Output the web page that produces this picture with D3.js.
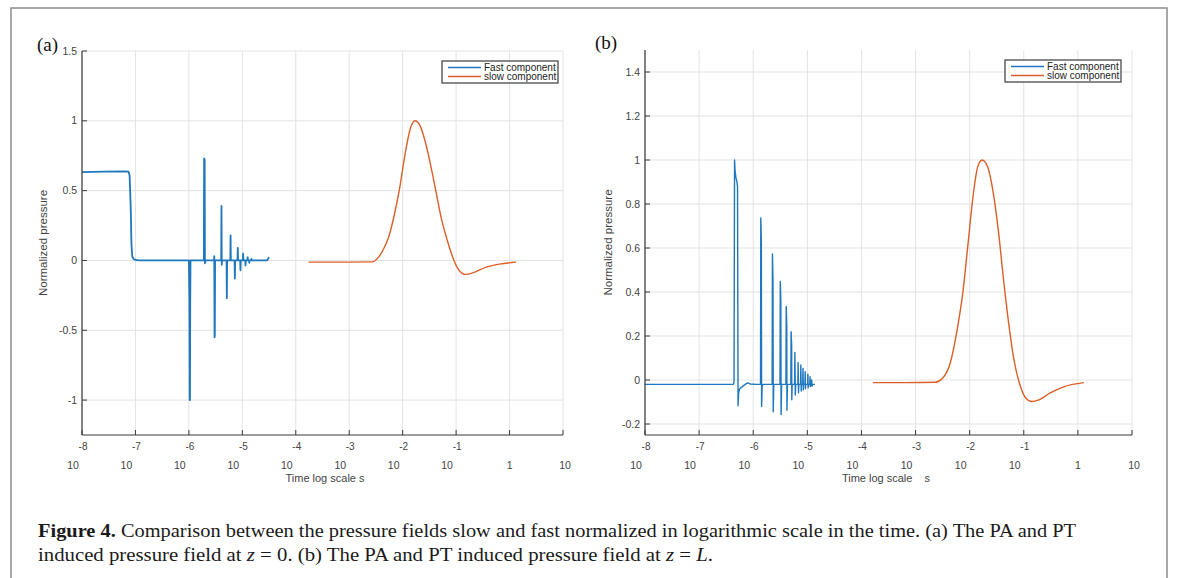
<!DOCTYPE html>
<html>
<head>
<meta charset="utf-8">
<script src="https://cdn.jsdelivr.net/npm/d3@7"></script>
<style>
  body { margin: 0; background: #fff; }
  svg { display: block; }
</style>
</head>
<body>
<svg id="chart" width="1179" height="578"></svg>
<script>
// Ejes: exponentes de 10 en el eje x
var xTickExps = [-8, -7, -6, -5, -4, -3, -2, -1, 0, 1];
var yTicksA = [-1, -0.5, 0, 0.5, 1, 1.5];
var yTicksB = [-0.2, 0, 0.2, 0.4, 0.6, 0.8, 1, 1.2, 1.4];
var seriesNames = ["Fast component", "slow component"];

// (a) componente rapida, log10(t) y presion
var fastA_logt = [-8, -7.6, -7.2, -7.13, -7.11, -7.09, -7.075, -7.06, -7.03, -6.95, -6.0,
  -5.99, -5.985, -5.98, -5.975, -5.97,
  -5.72, -5.715, -5.705, -5.70, -5.69,
  -5.53, -5.525, -5.52, -5.515, -5.51,
  -5.395, -5.39, -5.385, -5.38,
  -5.295, -5.29, -5.285,
  -5.225, -5.22, -5.215,
  -5.145, -5.14, -5.135,
  -5.09, -5.085, -5.08,
  -5.04, -5.035, -5.03,
  -4.99, -4.985, -4.98,
  -4.945, -4.94, -4.935,
  -4.905, -4.90, -4.895,
  -4.875, -4.87, -4.865,
  -4.835, -4.83, -4.825,
  -4.54, -4.52, -4.50];
var fastA_p = [0.633, 0.636, 0.638, 0.636, 0.61, 0.40, 0.12, 0.03, 0.008, 0.001, 0,
  -0.3, -1.0, -1.0, -0.3, 0,
  0, 0.73, 0.72, -0.02, 0,
  0, 0.03, -0.55, -0.54, 0,
  0, 0.39, -0.03, 0,
  0, -0.27, 0,
  0, 0.18, 0,
  0, -0.13, 0,
  0, 0.09, 0,
  0, -0.07, 0,
  0, 0.048, 0,
  0, -0.036, 0,
  0, 0.024, 0,
  0, -0.017, 0,
  0, 0.012, 0,
  0, 0.01, 0.024];

// (a) componente lenta
var slowA_logt = [-3.76, -3.2, -2.56, -2.46, -2.36, -2.26, -2.16, -2.06, -1.96, -1.86, -1.77,
  -1.67, -1.57, -1.47, -1.37, -1.27, -1.17, -1.07, -0.98, -0.83, -0.65, -0.45, -0.19, 0.12];
var slowA_p = [-0.012, -0.012, -0.01, 0.02, 0.08, 0.17, 0.32, 0.51, 0.75, 0.94, 1.0,
  0.96, 0.84, 0.67, 0.48, 0.29, 0.15, 0.03, -0.05, -0.10, -0.083, -0.05, -0.026, -0.012];

// (b) componente rapida
var fastB_logt = [-8, -6.37, -6.355, -6.345, -6.335, -6.32, -6.30, -6.29, -6.28, -6.27, -6.25, -6.2, -6.15, -6.1, -6.06, -5.95,
  -5.865, -5.86, -5.85, -5.845, -5.835, -5.82,
  -5.65, -5.645, -5.635, -5.63, -5.62,
  -5.505, -5.5, -5.49, -5.485, -5.475,
  -5.395, -5.39, -5.38, -5.377, -5.368,
  -5.305, -5.3, -5.29, -5.287, -5.28,
  -5.235, -5.23, -5.222, -5.215,
  -5.175, -5.17, -5.163, -5.157,
  -5.125, -5.12, -5.113, -5.108,
  -5.085, -5.08, -5.074, -5.069,
  -5.045, -5.04, -5.035, -5.03,
  -4.995, -4.99, -4.985, -4.98,
  -4.955, -4.95, -4.945, -4.94,
  -4.92, -4.915, -4.90, -4.86];
var fastB_p = [-0.02, -0.02, -0.01, 1.0, 0.95, 0.92, 0.90, 0.88, -0.117, -0.06, -0.04, -0.03, -0.02, -0.013, -0.018, -0.02,
  -0.02, 0.737, 0.64, -0.12, -0.03, -0.02,
  -0.02, 0.573, 0.456, -0.144, -0.02,
  -0.02, 0.448, 0.357, -0.157, -0.02,
  -0.02, 0.334, 0.243, -0.137, -0.02,
  -0.02, 0.22, 0.16, -0.09, -0.02,
  -0.02, 0.125, -0.068, -0.02,
  -0.02, 0.08, -0.058, -0.02,
  -0.02, 0.068, -0.05, -0.02,
  -0.02, 0.053, -0.045, -0.02,
  -0.02, 0.038, -0.04, -0.02,
  -0.02, 0.026, -0.035, -0.02,
  -0.02, 0.015, -0.03, -0.02,
  0.0, -0.028, -0.02, -0.02];

// (b) componente lenta
var slowB_logt = [-3.79, -3.2, -2.63, -2.50, -2.36, -2.23, -2.13, -2.03, -1.94, -1.85, -1.77,
  -1.67, -1.57, -1.47, -1.38, -1.28, -1.18, -1.08, -0.98, -0.85, -0.72, -0.52, -0.25, 0.11];
var slowB_p = [-0.012, -0.012, -0.01, 0.008, 0.076, 0.23, 0.39, 0.62, 0.83, 0.97, 1.0,
  0.97, 0.86, 0.68, 0.47, 0.26, 0.09, -0.015, -0.076, -0.098, -0.09, -0.06, -0.03, -0.012];

var azul = "#1f77bf";
var naranja = "#dc5e28";
var svg = d3.select("#chart");

// Marco de la figura
svg.append("rect")
  .attr("x", 11).attr("y", 8)
  .attr("width", 1156).attr("height", 600)
  .attr("fill", "none")
  .attr("stroke", "#8c8c8c")
  .attr("stroke-width", 1.5);

function dibujarPanel(cfg) {
  var x = d3.scaleLog().domain([1e-8, 10]).range([cfg.left, cfg.right]);
  var y = d3.scaleLinear().domain(cfg.yDomain).range([cfg.bottom, cfg.top]);
  var g = svg.append("g");

  // Rejilla
  g.selectAll(".gx").data(xTickExps).join("line")
    .attr("x1", function (d) { return x(Math.pow(10, d)); })
    .attr("x2", function (d) { return x(Math.pow(10, d)); })
    .attr("y1", cfg.top).attr("y2", cfg.bottom)
    .attr("stroke", "#e3e3e3").attr("stroke-width", 1);
  g.selectAll(".gy").data(cfg.yTicks).join("line")
    .attr("x1", cfg.left).attr("x2", cfg.right)
    .attr("y1", function (d) { return y(d); })
    .attr("y2", function (d) { return y(d); })
    .attr("stroke", "#e3e3e3").attr("stroke-width", 1);

  // Lineas de datos
  var fast = cfg.fastT.map(function (t, i) { return [Math.pow(10, t), cfg.fastP[i]]; });
  var slow = cfg.slowT.map(function (t, i) { return [Math.pow(10, t), cfg.slowP[i]]; });
  var linea = d3.line().x(function (d) { return x(d[0]); }).y(function (d) { return y(d[1]); });
  var curva = d3.line().curve(d3.curveMonotoneX)
    .x(function (d) { return x(d[0]); }).y(function (d) { return y(d[1]); });

  g.append("path").attr("d", linea(fast))
    .attr("fill", "none").attr("stroke", azul).attr("stroke-width", cfg.fastWidth)
    .attr("stroke-linejoin", "round");
  g.append("path").attr("d", curva(slow))
    .attr("fill", "none").attr("stroke", naranja).attr("stroke-width", 1.4);

  // Ejes
  g.append("line").attr("x1", cfg.left).attr("x2", cfg.right)
    .attr("y1", cfg.bottom).attr("y2", cfg.bottom)
    .attr("stroke", "#3a3a3a").attr("stroke-width", 1.2);
  g.append("line").attr("x1", cfg.left).attr("x2", cfg.left)
    .attr("y1", cfg.top).attr("y2", cfg.bottom)
    .attr("stroke", "#3a3a3a").attr("stroke-width", 1.2);

  // Marcas del eje x (hacia dentro)
  g.selectAll(".tx").data(xTickExps).join("line")
    .attr("x1", function (d) { return x(Math.pow(10, d)); })
    .attr("x2", function (d) { return x(Math.pow(10, d)); })
    .attr("y1", cfg.bottom).attr("y2", cfg.bottom - 5)
    .attr("stroke", "#3a3a3a");
  g.selectAll(".ty").data(cfg.yTicks).join("line")
    .attr("x1", cfg.left).attr("x2", cfg.left + 5)
    .attr("y1", function (d) { return y(d); })
    .attr("y2", function (d) { return y(d); })
    .attr("stroke", "#3a3a3a");

  // Etiquetas del eje x: 10 con exponente encima
  var estilo = "font-family: 'Liberation Sans', Arial, sans-serif; fill: #444;";
  xTickExps.forEach(function (e) {
    var px = x(Math.pow(10, e));
    if (e === 0) {
      g.append("text").attr("x", px).attr("y", cfg.bottom + 34)
        .attr("text-anchor", "middle").attr("style", estilo + "font-size:10.5px").text("1");
    } else if (e === 1) {
      g.append("text").attr("x", px + 2).attr("y", cfg.bottom + 34)
        .attr("text-anchor", "middle").attr("style", estilo + "font-size:10.5px").text("10");
    } else {
      g.append("text").attr("x", px - 9).attr("y", cfg.bottom + 34)
        .attr("text-anchor", "middle").attr("style", estilo + "font-size:10.5px").text("10");
      g.append("text").attr("x", px + 1).attr("y", cfg.bottom + 15)
        .attr("text-anchor", "middle").attr("style", estilo + "font-size:10px").text(String(e));
    }
  });

  // Etiquetas del eje y (guion normal como signo menos)
  g.selectAll(".ly").data(cfg.yTicks).join("text")
    .attr("x", cfg.left - 5)
    .attr("y", function (d) { return y(d) + 3.5; })
    .attr("text-anchor", "end")
    .attr("style", estilo + "font-size:10.5px")
    .text(function (d) { return String(d); });

  // Titulos de ejes
  g.append("text")
    .attr("x", cfg.xTitleX).attr("y", cfg.bottom + 47)
    .attr("text-anchor", "middle")
    .attr("style", estilo + "font-size:11px; white-space: pre")
    .text(cfg.xTitle);
  g.append("text")
    .attr("transform", "translate(" + cfg.yTitleX + "," + (cfg.top + cfg.bottom) / 2 + ") rotate(-90)")
    .attr("text-anchor", "middle")
    .attr("style", estilo + "font-size:11.5px")
    .text("Normalized pressure");

  // Leyenda
  var lg = g.append("g").attr("transform", "translate(" + cfg.legX + "," + cfg.legY + ")");
  lg.append("rect").attr("width", 116).attr("height", 22)
    .attr("fill", "#fff").attr("stroke", "#3a3a3a").attr("stroke-width", 1.2);
  [azul, naranja].forEach(function (c, i) {
    lg.append("line").attr("x1", 6).attr("x2", 39)
      .attr("y1", 6.5 + i * 9).attr("y2", 6.5 + i * 9)
      .attr("stroke", c).attr("stroke-width", 1.4);
    lg.append("text").attr("x", 42).attr("y", 10 + i * 9)
      .attr("style", "font-family: 'Liberation Sans', Arial, sans-serif; font-size:10px; fill:#222")
      .text(seriesNames[i]);
  });

  // Letra del panel
  svg.append("text").attr("x", cfg.labelX).attr("y", cfg.labelY)
    .attr("style", "font-family: 'Liberation Serif', 'Times New Roman', serif; font-size:19px; fill:#111")
    .text(cfg.label);
}

dibujarPanel({
  left: 82, right: 563, top: 51, bottom: 435,
  yDomain: [-1.25, 1.5], yTicks: yTicksA,
  fastT: fastA_logt, fastP: fastA_p, slowT: slowA_logt, slowP: slowA_p, fastWidth: 1.8,
  xTitle: "Time log scale s", xTitleX: 325, yTitleX: 47,
  legX: 442, legY: 61, label: "(a)", labelX: 37, labelY: 51
});

dibujarPanel({
  left: 645, right: 1132, top: 50, bottom: 435,
  yDomain: [-0.25, 1.5], yTicks: yTicksB,
  fastT: fastB_logt, fastP: fastB_p, slowT: slowB_logt, slowP: slowB_p, fastWidth: 1.4,
  xTitle: "Time log scale    s", xTitleX: 886, yTitleX: 612,
  legX: 1005, legY: 60, label: "(b)", labelX: 595, labelY: 49
});

// Pie de figura
var pie = svg.append("g")
  .attr("style", "font-family: 'Liberation Serif', 'Times New Roman', serif; font-size:18.5px; fill:#1a1a1a");
var l1 = pie.append("text").attr("x", 38).attr("y", 537)
  .attr("textLength", 1038).attr("lengthAdjust", "spacingAndGlyphs");
l1.append("tspan").attr("font-weight", "bold").text("Figure 4.");
l1.append("tspan").text(" Comparison between the pressure fields slow and fast normalized in logarithmic scale in the time. (a) The PA and PT");
var l2 = pie.append("text").attr("x", 38).attr("y", 561)
  .attr("textLength", 675).attr("lengthAdjust", "spacingAndGlyphs");
l2.append("tspan").text("induced pressure field at ");
l2.append("tspan").attr("font-style", "italic").text("z");
l2.append("tspan").text(" = 0. (b) The PA and PT induced pressure field at ");
l2.append("tspan").attr("font-style", "italic").text("z");
l2.append("tspan").text(" = ");
l2.append("tspan").attr("font-style", "italic").text("L");
l2.append("tspan").text(".");
</script>
</body>
</html>
